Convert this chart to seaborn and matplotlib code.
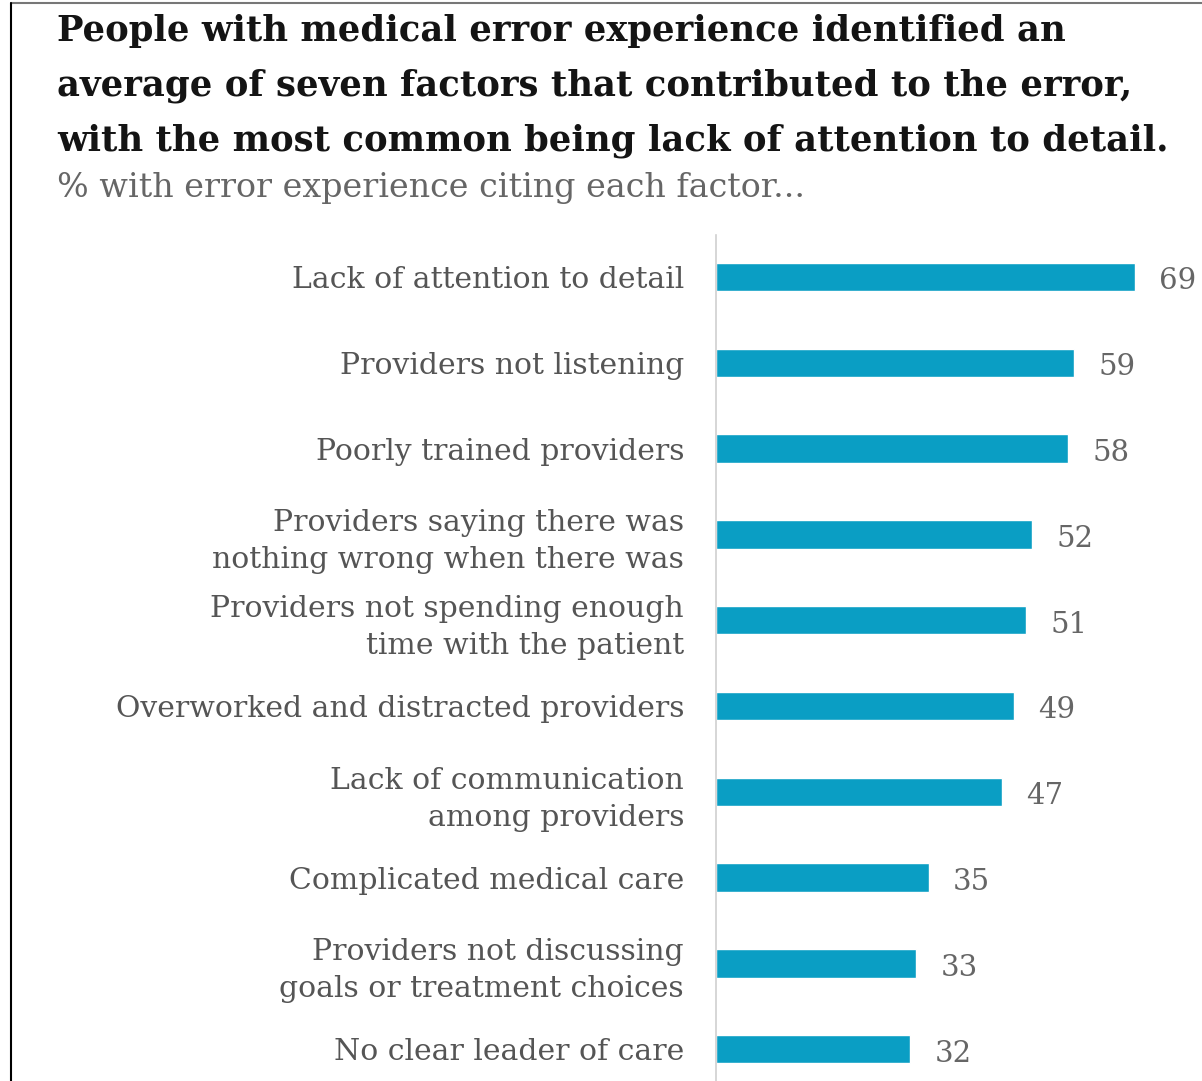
import matplotlib
matplotlib.use("Agg")
import matplotlib.pyplot as plt
import seaborn as sns
import pandas as pd
from matplotlib.lines import Line2D

factors = [
    "Lack of attention to detail",
    "Providers not listening",
    "Poorly trained providers",
    "Providers saying there was\nnothing wrong when there was",
    "Providers not spending enough\ntime with the patient",
    "Overworked and distracted providers",
    "Lack of communication\namong providers",
    "Complicated medical care",
    "Providers not discussing\ngoals or treatment choices",
    "No clear leader of care",
]
percents = [69, 59, 58, 52, 51, 49, 47, 35, 33, 32]

title_lines = [
    "People with medical error experience identified an",
    "average of seven factors that contributed to the error,",
    "with the most common being lack of attention to detail.",
]
subtitle = "% with error experience citing each factor..."

df = pd.DataFrame({"factor": factors, "pct": percents})

sns.set_theme(style="white")
plt.rcParams["font.family"] = ["DejaVu Serif"]

fig = plt.figure(figsize=(12.02, 10.81), dpi=100)
W, H = 1202, 1081

# axes: left edge at the baseline rule, spanning to the right edge
ax = fig.add_axes([716 / W, 0, 1 - 716 / W, (1081 - 235) / H])
sns.barplot(data=df, x="pct", y="factor", orient="h", color="#0a9ec4",
            saturation=1, width=0.33, ax=ax)
ax.set_xlim(0, 80)
ax.set_ylim(9.37, -0.49)
ax.set_xlabel("")
ax.set_ylabel("")
ax.set_xticks([])
for s in ["top", "right", "bottom"]:
    ax.spines[s].set_visible(False)
ax.spines["left"].set_color("#d0d0d0")
ax.spines["left"].set_linewidth(1.2)
ax.tick_params(axis="y", length=0, pad=23)
for lbl in ax.get_yticklabels():
    lbl.set_fontsize(21.5)
    lbl.set_color("#555555")
    lbl.set_horizontalalignment("right")
    lbl.set_linespacing(1.4)

for i, v in enumerate(percents):
    ax.text(v + 4.0, i + 0.05, str(v), va="center", ha="left",
            fontsize=21, color="#666666", clip_on=False)

# headline and subtitle
ys = [31, 86, 141]
for y, line in zip(ys, title_lines):
    fig.text(57 / W, 1 - y / H, line, ha="left", va="center",
             fontsize=25.5, fontweight="bold", color="#141414")
fig.text(57 / W, 1 - 188 / H, subtitle, ha="left", va="center",
         fontsize=24, color="#666666")

# frame edges
fig.add_artist(Line2D([11 / W, 1], [1 - 3 / H, 1 - 3 / H],
                      transform=fig.transFigure, color="#777777", lw=1.5))
fig.add_artist(Line2D([11 / W, 11 / W], [0, 1 - 3 / H],
                      transform=fig.transFigure, color="black", lw=1.5))

fig.savefig("out.png", dpi=100)
